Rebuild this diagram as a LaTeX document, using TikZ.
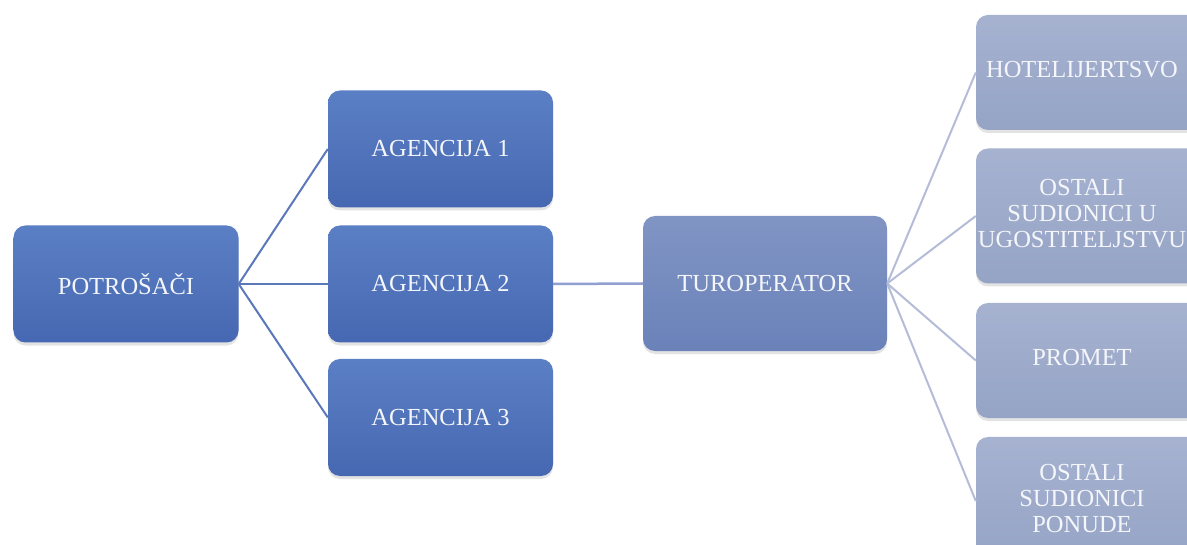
\documentclass[tikz,border=0pt]{standalone}
\usepackage{fontspec}
\setmainfont{Liberation Serif}
\usetikzlibrary{shadows}
\definecolor{lefttop}{HTML}{5B7FC4}
\definecolor{leftbot}{HTML}{4668B2}
\definecolor{midtop}{HTML}{8195C4}
\definecolor{midbot}{HTML}{6A82B9}
\definecolor{righttop}{HTML}{A6B2D0}
\definecolor{rightbot}{HTML}{95A3C5}
\definecolor{lineleft}{HTML}{5A78BA}
\definecolor{linemid}{HTML}{8E9FD0}
\definecolor{lineright}{HTML}{B4BCD8}
\definecolor{txt}{HTML}{F4F6FA}
\newcommand\rboxtext[1]{\makebox[212bp]{\begin{tabular}{@{}c@{}}#1\end{tabular}}\hspace*{28bp}}
\tikzset{
  boxbase/.style={rectangle, rounded corners=12bp, inner sep=0pt, align=center,
    text=txt, drop shadow={opacity=0.22, shadow xshift=0bp, shadow yshift=-3bp}},
  leftbox/.style={boxbase, top color=lefttop, bottom color=leftbot,
    minimum width=225bp, minimum height=117bp, font=\fontsize{24.5bp}{26bp}\selectfont},
  midbox/.style={boxbase, top color=midtop, bottom color=midbot,
    minimum width=244bp, minimum height=135bp, font=\fontsize{24.5bp}{26bp}\selectfont},
  rightbox/.style={rectangle, rounded corners=12bp, inner sep=0pt, text=txt,
    drop shadow={opacity=0.22, shadow xshift=0bp, shadow yshift=-3bp},
    top color=righttop, bottom color=rightbot,
    minimum width=240bp, font=\fontsize{24.5bp}{26bp}\selectfont},
  linkl/.style={draw=lineleft, line width=2bp},
  linkm/.style={draw=linemid, line width=2.5bp},
  linkr/.style={draw=lineright, line width=2bp}
}
\begin{document}
\begin{tikzpicture}[x=1bp, y=-1bp]
\useasboundingbox (0,0) rectangle (1187,545);
\clip (0,0) rectangle (1187,545);
\fill[white] (0,0) rectangle (1187,545);
% nodes
\node[leftbox] (pot) at (126,284) {POTROŠAČI};
\node[leftbox] (ag1) at (440.5,149) {AGENCIJA 1};
\node[leftbox] (ag2) at (440.5,284) {AGENCIJA 2};
\node[leftbox] (ag3) at (440.5,417.5) {AGENCIJA 3};
\node[midbox] (tur) at (765,283.5) {TUROPERATOR};
\node[rightbox, minimum height=115bp] (hot) at (1096,72.5) {\rboxtext{HOTELIJERTSVO}};
\node[rightbox, minimum height=135bp] (ost) at (1096,216) {\rboxtext{OSTALI\\SUDIONICI U\\UGOSTITELJSTVU}};
\node[rightbox, minimum height=115bp] (pro) at (1096,360.5) {\rboxtext{PROMET}};
\node[rightbox, minimum height=128bp] (pon) at (1096,501) {\rboxtext{OSTALI\\SUDIONICI\\PONUDE}};
% connectors
\path[linkl] (pot.east) -- (ag1.west);
\path[linkl] (pot.east) -- (ag2.west);
\path[linkl] (pot.east) -- (ag3.west);
\path[linkm] (ag2.east) -- (tur.west);
\path[linkr] (tur.east) -- (hot.west);
\path[linkr] (tur.east) -- (ost.west);
\path[linkr] (tur.east) -- (pro.west);
\path[linkr] (tur.east) -- (pon.west);
\end{tikzpicture}
\end{document}
